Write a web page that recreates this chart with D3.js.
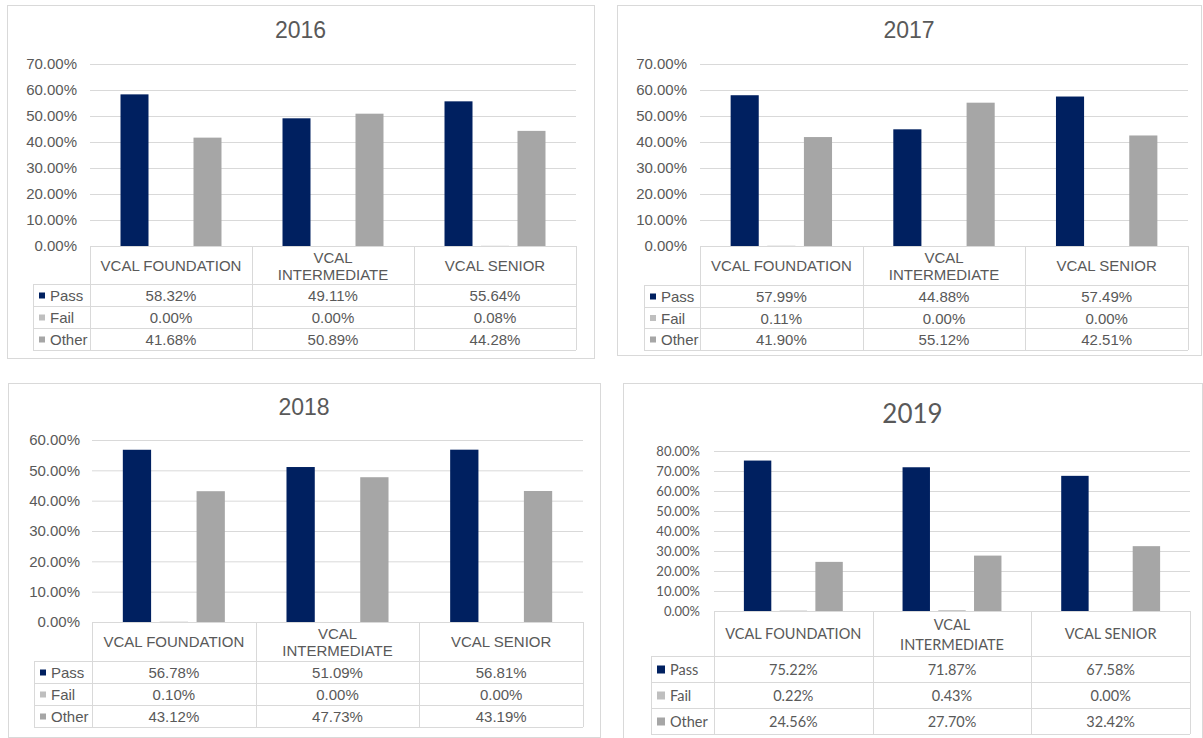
<!DOCTYPE html>
<html>
<head>
<meta charset="utf-8">
<script src="https://cdn.jsdelivr.net/npm/d3@7"></script>
<style>
body{margin:0;background:#fff}
svg{display:block}
</style>
</head>
<body>
<svg id="chart" width="1203" height="738"></svg>
<script>
//the data, one entry per year
const years = ["2016", "2017", "2018", "2019"];
const categories = ["VCAL FOUNDATION", "VCAL INTERMEDIATE", "VCAL SENIOR"];
const series = ["Pass", "Fail", "Other"];
const passVals  = [[58.32, 49.11, 55.64], [57.99, 44.88, 57.49], [56.78, 51.09, 56.81], [75.22, 71.87, 67.58]];
const failVals  = [[0.00, 0.00, 0.08], [0.11, 0.00, 0.00], [0.10, 0.00, 0.00], [0.22, 0.43, 0.00]];
const otherVals = [[41.68, 50.89, 44.28], [41.90, 55.12, 42.51], [43.12, 47.73, 43.19], [24.56, 27.70, 32.42]];
//top of the value axis for each year
const yMaxes = [70, 70, 60, 80];

let colors = {Pass: "#002060", Fail: "#BFBFBF", Other: "#A6A6A6"};
let textCol = "#595959", lineCol = "#D9D9D9";

//where each panel sits on the page (box, plot x range, plot y range, table rows)
let arial = "'Liberation Sans', Arial, sans-serif";
let calibri = "Lato, 'Noto Sans', sans-serif";
let layouts = [
  {box: [7, 5, 594, 358], x: [90, 576], y: [246, 64], leg: 33, rows: [284, 306, 328, 350], titleY: 30, font: arial, tick: 15, cell: 15, title: 23, key: 6, tickGap: 13, lineH: 17, wrapPad: 12},
  {box: [617, 5, 1201, 355], x: [700, 1188], y: [246, 64], leg: 644, rows: [285, 307, 328, 350], titleY: 30, font: arial, tick: 15, cell: 15, title: 23, key: 6, tickGap: 13, lineH: 17, wrapPad: 12},
  {box: [8, 383, 600, 737], x: [92, 583], y: [622, 440], leg: 34, rows: [661, 683, 705, 727], titleY: 407, font: arial, tick: 15, cell: 15, title: 23, key: 6, tickGap: 12, lineH: 17, wrapPad: 12},
  {box: [623, 383, 1202, 745], x: [714, 1190], y: [611, 451], leg: 651, rows: [656, 682, 708, 734], titleY: 413, font: calibri, tick: 13, cell: 14.5, title: 26, key: 8, tickGap: 14, lineH: 20, wrapPad: 20}
];

let svg = d3.select("#chart");

function drawPanel(i){
  let L = layouts[i];
  let g = svg.append("g").attr("font-family", L.font);
  let data = {Pass: passVals[i], Fail: failVals[i], Other: otherVals[i]};

  //outer box
  g.append("rect")
    .attr("x", L.box[0] + 0.5).attr("y", L.box[1] + 0.5)
    .attr("width", L.box[2] - L.box[0]).attr("height", L.box[3] - L.box[1])
    .attr("fill", "white").attr("stroke", lineCol);

  //title
  g.append("text")
    .attr("x", (L.box[0] + L.box[2]) / 2).attr("y", L.titleY)
    .attr("text-anchor", "middle").attr("dominant-baseline", "central")
    .attr("font-size", L.title).attr("fill", textCol)
    .text(years[i]);

  //scales
  let x_scale = d3.scaleBand(categories, L.x);
  let x_inner = d3.scaleBand(series, [0, x_scale.bandwidth()]).paddingInner(0.233).paddingOuter(0.836);
  let y_scale = d3.scaleLinear([0, yMaxes[i]], L.y);

  //y axis with gridlines
  let yAxis = d3.axisLeft(y_scale).ticks(yMaxes[i] / 10)
    .tickSize(-(L.x[1] - L.x[0]))
    .tickFormat(d => d.toFixed(2) + "%");
  let y_ax = g.append("g").attr("transform", `translate(${L.x[0]},0)`).call(yAxis);
  y_ax.select(".domain").remove();
  y_ax.selectAll("line").attr("stroke", lineCol);
  y_ax.selectAll("text").attr("x", -L.tickGap).attr("font-size", L.tick)
    .attr("fill", textCol).attr("font-family", L.font);

  //bars
  series.forEach(s => {
    g.append("g").selectAll("rect")
      .data(categories.map((c, j) => ({c: c, v: data[s][j]})))
      .join("rect")
      .attr("x", d => x_scale(d.c) + x_inner(s))
      .attr("width", x_inner.bandwidth())
      .attr("y", d => y_scale(d.v))
      .attr("height", d => y_scale(0) - y_scale(d.v))
      .attr("fill", colors[s]);
  });

  //data table below the plot
  let top = L.y[0];
  let tbl = g.append("g").attr("fill", "none").attr("stroke", lineCol);
  tbl.append("line").attr("x1", L.x[0]).attr("x2", L.x[1]).attr("y1", top + 0.5).attr("y2", top + 0.5);
  L.rows.forEach(r => {
    tbl.append("line").attr("x1", L.leg).attr("x2", L.x[1]).attr("y1", r + 0.5).attr("y2", r + 0.5);
  });
  tbl.append("line").attr("x1", L.leg + 0.5).attr("x2", L.leg + 0.5).attr("y1", L.rows[0]).attr("y2", L.rows[3]);
  categories.forEach(c => {
    let xx = Math.round(x_scale(c)) + 0.5;
    tbl.append("line").attr("x1", xx).attr("x2", xx).attr("y1", top).attr("y2", L.rows[3]);
  });
  tbl.append("line").attr("x1", L.x[1] + 0.5).attr("x2", L.x[1] + 0.5).attr("y1", top).attr("y2", L.rows[3]);

  //category header, wrapped when it does not fit
  categories.forEach(c => {
    let cx = x_scale(c) + x_scale.bandwidth() / 2;
    let cy = (top + L.rows[0]) / 2;
    let t = g.append("text").attr("x", cx).attr("y", cy)
      .attr("text-anchor", "middle").attr("dominant-baseline", "central")
      .attr("font-size", L.cell).attr("fill", textCol).text(c);
    if (t.node().getComputedTextLength() > x_scale.bandwidth() - L.wrapPad) {
      let words = c.split(" ");
      t.text(null);
      words.forEach((w, k) => {
        t.append("tspan").attr("x", cx).attr("y", cy + (k - (words.length - 1) / 2) * L.lineH).text(w);
      });
    }
  });

  //table rows with legend keys
  series.forEach((s, k) => {
    let r0 = L.rows[k], r1 = L.rows[k + 1];
    let cy = (r0 + r1) / 2 + 0.5;
    g.append("rect").attr("x", L.leg + 6).attr("y", cy - L.key / 2)
      .attr("width", L.key).attr("height", L.key).attr("fill", colors[s]);
    g.append("text").attr("x", L.leg + L.key + 11).attr("y", cy)
      .attr("dominant-baseline", "central").attr("font-size", L.cell)
      .attr("fill", textCol).text(s);
    categories.forEach((c, j) => {
      g.append("text").attr("x", x_scale(c) + x_scale.bandwidth() / 2).attr("y", cy)
        .attr("text-anchor", "middle").attr("dominant-baseline", "central")
        .attr("font-size", L.cell).attr("fill", textCol)
        .text(data[s][j].toFixed(2) + "%");
    });
  });
}

years.forEach((y, i) => drawPanel(i));
</script>
</body>
</html>
